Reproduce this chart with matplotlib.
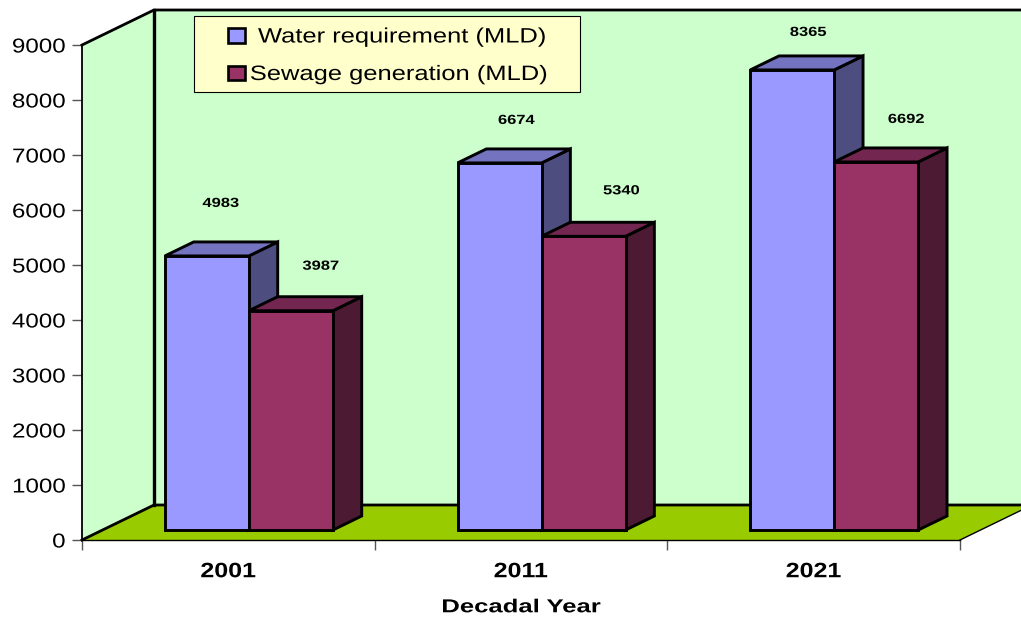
import matplotlib
matplotlib.use('Agg')
import matplotlib.pyplot as plt
import matplotlib.patheffects as pe
from matplotlib.patches import Polygon, Rectangle
from matplotlib.transforms import Affine2D

plt.rcParams['font.family'] = ['Liberation Sans', 'DejaVu Sans']

W, H = 1021, 619

years = ['2001', '2011', '2021']
water = [4983, 6674, 8365]
sewage = [3987, 5340, 6692]
yticks = [0, 1000, 2000, 3000, 4000, 5000, 6000, 7000, 8000, 9000]

# pixel offsets of the data labels from the bar's front top centre
water_off = [(14, 52), (17, 42), (16, 37)]
sewage_off = [(30, 44), (38, 45), (30, 42)]

# full depth of the 3d box, in axis units
DX = 72 / 292.67
DV = 35 / 0.055
FRONT = 10 / 35
BACK = 24 / 35
BAR_W = 0.287

WALL = '#CCFFCC'
FLOOR = '#99CC00'
BLUE = ('#9999FF', '#7373BF', '#4D4D80')
RED = ('#993366', '#732650', '#4D1A33')
LW = 2.1


class WideText(pe.AbstractPathEffect):
    # the reference has letter-spaced text, so widen the glyphs around an anchor
    def __init__(self, sx, anchor=0.5):
        super().__init__()
        self.sx = sx
        self.anchor = anchor

    def draw_path(self, renderer, gc, tpath, affine, rgbFace=None):
        box = tpath.get_extents()
        cx = box.x0 + self.anchor * box.width
        stretch = Affine2D().translate(-cx, 0).scale(self.sx, 1).translate(cx, 0)
        renderer.draw_path(gc, tpath, stretch + affine, rgbFace)


def pt(x, v, d):
    return (x + d * DX, v + d * DV)


def poly(ax, pts, color, z, lw=LW):
    ax.add_patch(Polygon(pts, closed=True, facecolor=color, edgecolor='black' if lw else 'none',
                         linewidth=lw, joinstyle='miter', zorder=z, clip_on=False))


def bar3d(ax, x, v, cols, z):
    l, r = x, x + BAR_W
    poly(ax, [pt(r, 0, FRONT), pt(r, 0, BACK), pt(r, v, BACK), pt(r, v, FRONT)], cols[2], z)
    poly(ax, [pt(l, v, FRONT), pt(l, v, BACK), pt(r, v, BACK), pt(r, v, FRONT)], cols[1], z)
    ax.bar(pt(l, 0, FRONT)[0], v, BAR_W, bottom=FRONT * DV, align='edge', color=cols[0],
           edgecolor='black', linewidth=LW, zorder=z, clip_on=False)


fig = plt.figure(figsize=(W / 100, H / 100), dpi=100)
ax = fig.add_axes([82 / W, (H - 540) / H, 878 / W, 495 / H])
ax.set_xlim(0, 3)
ax.set_ylim(0, 9000)
ax.patch.set_visible(False)

# walls and floor
poly(ax, [pt(0, 0, 1), pt(3, 0, 1), pt(3, 9000, 1), pt(0, 9000, 1)], WALL, 1, lw=0)
poly(ax, [pt(0, 0, 0), pt(0, 0, 1), pt(0, 9000, 1), pt(0, 9000, 0)], WALL, 1, lw=0)
poly(ax, [pt(0, 0, 0), pt(3, 0, 0), pt(3, 0, 1), pt(0, 0, 1)], FLOOR, 1.5, lw=0)
edges = [
    ([pt(0, 9000, 0), pt(0, 9000, 1), pt(3, 9000, 1)], 2.0),
    ([pt(0, 0, 1), pt(0, 9000, 1)], 2.4),
    ([pt(0, 0, 0), pt(0, 0, 1), pt(3, 0, 1)], 2.0),
    ([pt(3, 0, 0), pt(3, 0, 1)], 1.0),
]
for e, w in edges:
    ax.plot([p[0] for p in e], [p[1] for p in e], color='black', lw=w, zorder=2, clip_on=False,
            solid_joinstyle='miter')

for i in range(3):
    xl = i + 0.5 - BAR_W
    bar3d(ax, xl, water[i], BLUE, 3 + i)
    bar3d(ax, i + 0.5, sewage[i], RED, 3 + i + 0.5)
    ax.annotate(str(water[i]), pt(xl + BAR_W / 2, water[i], FRONT), xytext=water_off[i],
                textcoords='offset pixels', ha='center', va='center', fontsize=9.5,
                fontweight='bold', zorder=10, path_effects=[WideText(1.25)])
    ax.annotate(str(sewage[i]), pt(i + 0.5 + BAR_W / 2, sewage[i], FRONT), xytext=sewage_off[i],
                textcoords='offset pixels', ha='center', va='center', fontsize=9.5,
                fontweight='bold', zorder=10, path_effects=[WideText(1.25)])

for s in ['top', 'right']:
    ax.spines[s].set_visible(False)
ax.spines['left'].set_linewidth(1.3)
ax.spines['bottom'].set_linewidth(1.0)
ax.spines['left'].set_zorder(2.5)
ax.spines['bottom'].set_zorder(2.5)

ax.set_yticks(yticks)
ax.tick_params(axis='y', labelsize=14.5, length=7, width=1, color='#555555', pad=5)
for t in ax.get_yticklabels():
    t.set_path_effects([WideText(1.2, anchor=1)])
ax.set_xticks([0, 1, 2, 3])
ax.set_xticklabels([])
ax.tick_params(axis='x', which='major', length=7, width=1, color='#555555')
ax.set_xticks([0.5, 1.5, 2.5], minor=True)
ax.set_xticklabels(years, minor=True, fontsize=15, fontweight='bold')
ax.tick_params(axis='x', which='minor', length=0, pad=16)
for t in ax.get_xticklabels(minor=True):
    t.set_path_effects([WideText(1.2)])
ax.set_xlabel('Decadal Year', fontsize=13.5, fontweight='bold', labelpad=13,
              path_effects=[WideText(1.37)])

# legend box, laid out by hand since the text is wider than matplotlib measures it
fig.add_artist(Rectangle((194 / W, 1 - 91.5 / H), 386 / W, 75 / H, transform=fig.transFigure,
                         facecolor='#FFFFCC', edgecolor='black', linewidth=0.8, zorder=20))
legend_rows = [('Water requirement (MLD)', BLUE[0], 35.5, 258), ('Sewage generation (MLD)', RED[0], 73, 250)]
for label, col, yc, xt in legend_rows:
    fig.add_artist(Rectangle((228 / W, 1 - (yc + 7) / H), 16.5 / W, 14 / H, transform=fig.transFigure,
                             facecolor=col, edgecolor='black', linewidth=1.9, zorder=21))
    fig.text(xt / W, 1 - (yc + 1.5) / H, label, fontsize=15, va='center', ha='left', zorder=21,
             path_effects=[WideText(1.225, anchor=0)])

fig.savefig('out.png', dpi=100)
